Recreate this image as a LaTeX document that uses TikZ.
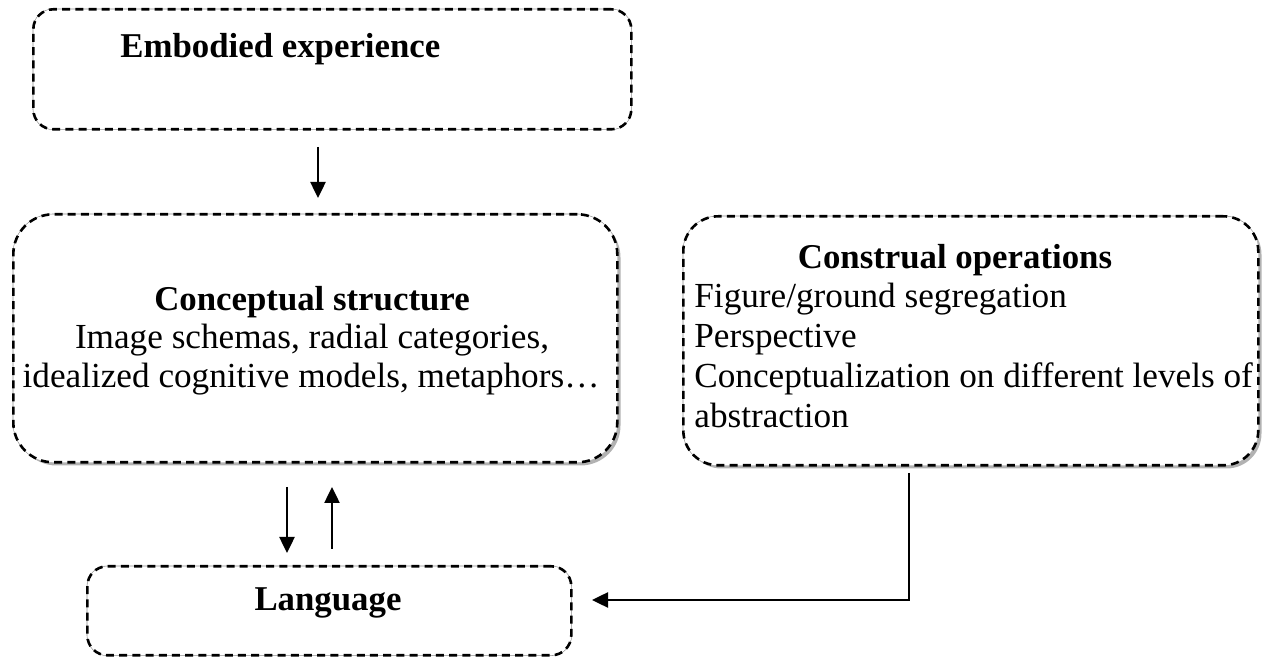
\documentclass[tikz,border=0pt]{standalone}
\usepackage{fontspec}
\setmainfont{Liberation Serif}
\usetikzlibrary{arrows.meta,shadows}

\tikzset{
  box/.style={draw=black, fill=white, line width=1.3pt,
    dash pattern=on 4pt off 2.6pt,
    preaction={draw=black!45, solid, line width=0.6pt},
    rectangle, anchor=north west, inner sep=0pt},
  shade/.style={drop shadow={shadow xshift=1.6pt, shadow yshift=-1.6pt,
    fill=black!30, opacity=1}},
  head/.style={font=\fontsize{17.4}{19.4}\selectfont\bfseries, inner sep=0pt},
  body/.style={font=\fontsize{17.6}{19.4}\selectfont, inner sep=0pt},
  arr/.style={line width=1.25pt, -{Triangle[length=8pt,width=7.5pt]}},
}

\begin{document}
\begin{tikzpicture}[x=0.5pt, y=-0.5pt]
  \useasboundingbox (0,0) rectangle (1265,657);

  % boxes
  \node[box, rounded corners=10pt, minimum width=299pt, minimum height=60pt]
    (emb) at (32,8) {};
  \node[box, shade, rounded corners=20pt, minimum width=302pt, minimum height=124pt]
    (con) at (12,213) {};
  \node[box, shade, rounded corners=17.5pt, minimum width=287.5pt, minimum height=124.5pt]
    (cons) at (682,215) {};
  \node[box, rounded corners=10pt, minimum width=242pt, minimum height=44.5pt]
    (lang) at (86,565) {};

  % texts
  \node[head, anchor=base west] (embT) at (120,58) {Embodied experience};

  \node[head, anchor=base] (conT) at (312,311) {Conceptual structure};
  \node[body, anchor=base] (conL1) at (312,349) {Image schemas, radial categories,};
  \node[body, anchor=base] (conL2) at (311,388) {idealized cognitive models, metaphors\ldots};

  \node[head, anchor=base] (consT) at (955,269) {Construal operations};
  \node[body, anchor=base west] (consL1) at (694,308) {Figure/ground segregation};
  \node[body, anchor=base west] (consL2) at (694,348) {Perspective};
  \node[body, anchor=base west] (consL3) at (694,388) {Conceptualization on different levels of};
  \node[body, anchor=base west] (consL4) at (694,428) {abstraction};

  \node[head, anchor=base] (langT) at (328,611) {Language};

  % connector ends
  \coordinate (a1s) at (318,147);
  \coordinate (a1e) at (318,198);
  \coordinate (a2s) at (287,487);
  \coordinate (a2e) at (287,553);
  \coordinate (a3s) at (332,549);
  \coordinate (a3e) at (332,487);
  \coordinate (a4s) at (909,473);
  \coordinate (a4e) at (592,600);

  % connectors
  \draw[arr] (a1s) -- (a1e);
  \draw[arr] (a2s) -- (a2e);
  \draw[arr] (a3s) -- (a3e);
  \draw[arr] (a4s) |- (a4e);
\end{tikzpicture}
\end{document}
